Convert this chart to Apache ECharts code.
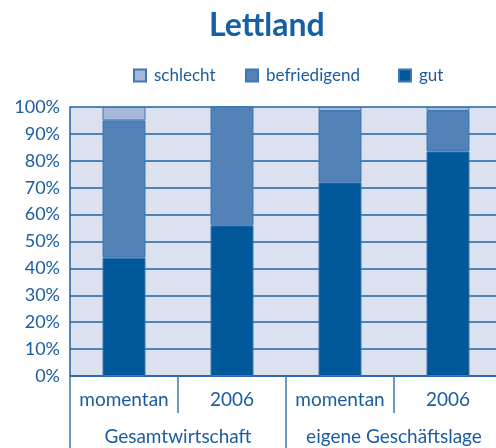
<!DOCTYPE html>
<html><head><meta charset="utf-8">
<script src="https://cdn.jsdelivr.net/npm/echarts@6/dist/echarts.min.js"></script>
<style>html,body{margin:0;padding:0;background:#fff}#c{width:496px;height:448px}</style>
</head><body><div id="c"></div>
<script>
const categories = ['momentan', '2006', 'momentan', '2006'];
const groups = ['Gesamtwirtschaft', 'eigene Geschäftslage'];
const gut = [44, 56, 72, 83.5];
const befriedigend = [51, 44, 26.5, 15];
const schlecht = [5, 0, 1.5, 1.5];
const yTicks = [0, 10, 20, 30, 40, 50, 60, 70, 80, 90, 100];
const legendNames = ['schlecht', 'befriedigend', 'gut'];

const txt = '#1a5c9f';
const line = '#1f63a5';
const font = 'Lato';
const legendLeft = [128, 240, 393];
const chart = echarts.init(document.getElementById('c'));
chart.setOption({
  animation: false,
  title: { text: 'Lettland', left: 204, top: 5,
    textStyle: { fontFamily: font, fontSize: 32, fontWeight: 'bold', color: '#1360a4' } },
  legend: legendNames.map((n, i) => ({ data: [n], left: legendLeft[i], top: 62,
    itemWidth: 12, itemHeight: 12, icon: 'rect',
    textStyle: { fontFamily: font, fontSize: 17, color: txt, padding: [0, 0, 0, 3] } })),
  grid: { left: 70, width: 432, top: 107, bottom: 72, show: true, outerBoundsMode: 'none',
    containLabel: false, backgroundColor: '#dce1ef', borderWidth: 0 },
  yAxis: { type: 'value', min: 0, max: 100, interval: 10,
    axisLine: { show: true, lineStyle: { color: line, width: 1.5 } },
    axisTick: { show: false },
    splitLine: { lineStyle: { color: line, width: 1.5 } },
    axisLabel: { formatter: v => yTicks.includes(v) ? v + '%' : '', fontFamily: font,
      fontSize: 18, color: txt, margin: 10 } },
  xAxis: [
    { type: 'category', data: categories, position: 'bottom',
      axisLine: { show: true, lineStyle: { color: line, width: 1.5 } },
      axisTick: { show: true, interval: 0, length: 37, lineStyle: { color: '#3b75b0', width: 1.5 } },
      axisLabel: { interval: 0, hideOverlap: false, fontFamily: font, fontSize: 19, color: txt, margin: 14 } },
    { type: 'category', data: groups, position: 'bottom', gridIndex: 0,
      axisLine: { show: false },
      axisTick: { show: true, interval: 0, length: 72, lineStyle: { color: '#3b75b0', width: 1.5 } },
      axisLabel: { interval: 0, hideOverlap: false, fontFamily: font, fontSize: 19, color: txt, margin: 51 } }
  ],
  series: [
    { name: 'gut', type: 'bar', stack: 's', data: gut, barWidth: 43,
      itemStyle: { color: '#00589b', borderColor: '#3d78b3', borderWidth: 1 } },
    { name: 'befriedigend', type: 'bar', stack: 's', data: befriedigend, barWidth: 43,
      itemStyle: { color: '#5281b8', borderColor: '#3d78b3', borderWidth: 1 } },
    { name: 'schlecht', type: 'bar', stack: 's', data: schlecht, barWidth: 43,
      itemStyle: { color: '#a6b8d9', borderColor: '#3d78b3', borderWidth: 1 } }
  ]
});
</script></body></html>
